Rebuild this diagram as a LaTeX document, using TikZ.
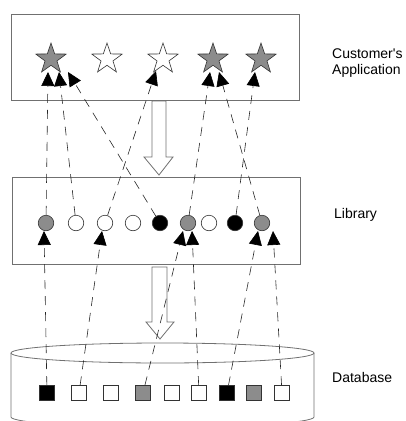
\documentclass[tikz,border=0pt]{standalone}
\usepackage{fontspec}
\setmainfont{Liberation Sans}
\usetikzlibrary{shapes.geometric,arrows.meta}
\definecolor{fgray}{HTML}{8C8C8C}
\definecolor{edge}{HTML}{707070}
\begin{document}
\begin{tikzpicture}[x=1pt,y=-1pt,
  panel/.style={draw=edge,line width=0.8pt},
  starnode/.style={star,star points=5,star point ratio=2.55,minimum size=32pt,inner sep=0pt,draw=black!80,line width=0.6pt},
  dot/.style={circle,minimum size=15.5pt,inner sep=0pt,draw=black!80,line width=0.6pt},
  sq/.style={rectangle,minimum size=15pt,inner sep=0pt,draw=black!80,line width=0.6pt},
  link/.style={draw=black!85,line width=0.6pt,dash pattern=on 9pt off 7pt,-{Triangle[length=14pt,width=13pt,color=black,fill=black]}},
  bigarrow/.style={draw=edge,line width=0.8pt},
  lbl/.style={font=\fontsize{14}{16}\selectfont,inner sep=0pt,align=left}]
\path[use as bounding box] (0,0) rectangle (405,421);
\clip (0,0) rectangle (405,421);
% panels
\draw[panel] (11,14) rectangle (299,100);
\draw[panel] (12,177) rectangle (300,264);
% database cylinder
\draw[panel] (162.5,353) ellipse [x radius=151.5,y radius=10];
\draw[panel] (11,353) -- (11,417) arc[start angle=180,end angle=360,x radius=151.5,y radius=-10] -- (314,353);
% hollow arrows
\draw[bigarrow] (152,101) -- (152,157) -- (144,157) -- (159,175) -- (173,157) -- (166,157) -- (166,101) -- cycle;
\draw[bigarrow] (152,267) -- (152,322) -- (146,322) -- (160,339) -- (174,322) -- (167,322) -- (167,267) -- cycle;
% stars
\node[starnode,fill=fgray] (s1) at (51,59) {};
\node[starnode,fill=white] (s2) at (107,59) {};
\node[starnode,fill=white] (s3) at (163,59) {};
\node[starnode,fill=fgray] (s4) at (213,59) {};
\node[starnode,fill=fgray] (s5) at (261,59) {};
% circles
\node[dot,fill=fgray] (c1) at (46,223) {};
\node[dot,fill=white] (c2) at (76,223) {};
\node[dot,fill=white] (c3) at (105,223) {};
\node[dot,fill=white] (c4) at (133,223) {};
\node[dot,fill=black] (c5) at (160,223) {};
\node[dot,fill=fgray] (c6) at (188,223) {};
\node[dot,fill=white] (c7) at (209,223) {};
\node[dot,fill=black] (c8) at (235,223) {};
\node[dot,fill=fgray] (c9) at (262,223) {};
% squares
\node[sq,fill=black] (q1) at (47,393) {};
\node[sq,fill=white] (q2) at (79,393) {};
\node[sq,fill=white] (q3) at (111,393) {};
\node[sq,fill=fgray] (q4) at (143,393) {};
\node[sq,fill=white] (q5) at (172,393) {};
\node[sq,fill=white] (q6) at (199,393) {};
\node[sq,fill=black] (q7) at (227,393) {};
\node[sq,fill=fgray] (q8) at (254,393) {};
\node[sq,fill=white] (q9) at (282,393) {};
% arrow tip points
\coordinate (ta1) at (48,72);
\coordinate (ta2) at (59,72);
\coordinate (ta3) at (68,72);
\coordinate (ta4) at (156,71);
\coordinate (ta5) at (210,72);
\coordinate (ta6) at (219,72);
\coordinate (ta7) at (255,72);
\coordinate (tb1) at (44,231);
\coordinate (tb2) at (102,231);
\coordinate (tb3) at (183,231);
\coordinate (tb4) at (192,231);
\coordinate (tb5) at (258,231);
\coordinate (tb6) at (273,231);
% library -> application
\draw[link] (c1) -- (ta1);
\draw[link] (c2) -- (ta2);
\draw[link] (c5) -- (ta3);
\draw[link] (c3) -- (ta4);
\draw[link] (c6) -- (ta5);
\draw[link] (c9) -- (ta6);
\draw[link] (c8) -- (ta7);
% database -> library
\draw[link] (q1) -- (tb1);
\draw[link] (q2) -- (tb2);
\draw[link] (q4) -- (tb3);
\draw[link] (q6) -- (tb4);
\draw[link] (q7) -- (tb5);
\draw[link] (q9) -- (tb6);
% labels
\node[lbl,anchor=north west] (l1) at (332,49) {Customer\textquotesingle s\\Application};
\node[lbl,anchor=base west] (l2) at (334,218) {Library};
\node[lbl,anchor=base west] (l3) at (332,382) {Database};
\end{tikzpicture}
\end{document}
